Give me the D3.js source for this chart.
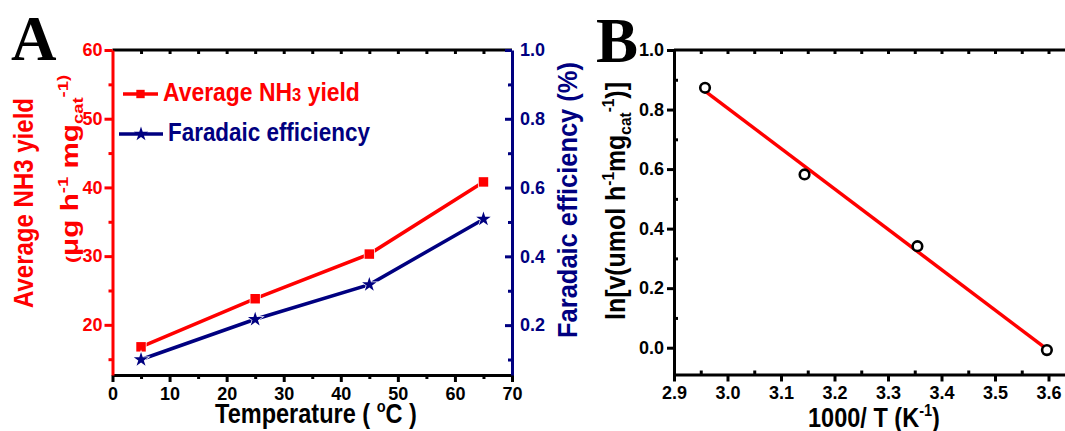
<!DOCTYPE html>
<head>
<meta charset="utf-8">
<script src="https://d3js.org/d3.v7.min.js"></script>
<style>
  body { margin: 0; background: #fff; }
  svg { display: block; }
  text { font-family: "Liberation Sans", Arial, sans-serif; font-weight: bold; }
  .panel-letter { font-family: "Liberation Serif", "Times New Roman", serif; }
</style>
</head>
<body>
<svg id="chart" width="1065" height="431"></svg>
<script>
// ---- panel A : yield / efficiency vs temperature
var temps = [5, 25, 45, 65];
var nh3Yield = [16.8, 23.8, 30.3, 40.8];
var faradaic = [0.10, 0.217, 0.318, 0.508];
var xTicksA = [0, 10, 20, 30, 40, 50, 60, 70];
var xMinorA = [5, 15, 25, 35, 45, 55, 65];
var yTicksA = [20, 30, 40, 50, 60];
var yMinorA = [15, 25, 35, 45, 55];
var y2TicksA = [0.2, 0.4, 0.6, 0.8, 1.0];
var y2MinorA = [0.1, 0.3, 0.5, 0.7, 0.9];

// ---- panel B : Arrhenius plot
var invT = [2.958, 3.144, 3.355, 3.597];
var lnRate = [0.873, 0.582, 0.341, -0.008];
var fitX = [2.958, 3.597];
var fitY = [0.862, -0.005];
var xTicksB = [2.9, 3.0, 3.1, 3.2, 3.3, 3.4, 3.5, 3.6];
var xMinorB = [2.95, 3.05, 3.15, 3.25, 3.35, 3.45, 3.55];
var yTicksB = [0.0, 0.2, 0.4, 0.6, 0.8, 1.0];
var yMinorB = [0.1, 0.3, 0.5, 0.7, 0.9];

var red = '#ff0000', navy = '#000080';
var svg = d3.select('#chart');

function drawAxis(gen, tf, color) {
  var g = svg.append('g')
    .attr('transform', tf)
    .attr('color', color)
    .call(gen)
    .attr('font-size', 18);
  g.selectAll('path, line').attr('stroke-width', 3);
  return g;
}

function minorAxis(gen, tf, color) {
  var g = drawAxis(gen.tickFormat(''), tf, color);
  g.select('.domain').remove();
  return g;
}

// text with sup/sub parts, squeezed to a target width
function label(parts, o) {
  var t = svg.append('text')
    .attr('text-anchor', o.anchor || 'middle')
    .style('font-size', o.size + 'px')
    .attr('fill', o.fill || '#000');
  var shift = 0;
  parts.forEach(function (p) {
    var s = typeof p === 'string' ? [p, ''] : p;
    var target = s[1] === 'sup' ? -0.42 * o.size : s[1] === 'sub' ? 0.22 * o.size : 0;
    var ts = t.append('tspan').attr('dy', target - shift).text(s[0]);
    if (s[1] === 'sup' || s[1] === 'sub') ts.style('font-size', (o.size * 0.62) + 'px');
    if (s[1] === 'small') ts.style('font-size', (o.size * 0.72) + 'px');
    shift = target;
  });
  var len = t.node().getComputedTextLength();
  var k = o.width ? o.width / len : 1;
  t.attr('transform', 'translate(' + o.x + ',' + o.y + ') rotate(' + (o.rotate || 0) + ') scale(' + k + ',1)');
  return t;
}

// ================= panel A =================
var xA = d3.scaleLinear().domain([0, 70]).range([112.5, 512]);
var yA = d3.scaleLinear().domain([12.7, 60]).range([375, 50]);
var yA2 = d3.scaleLinear().domain([0.055, 1.0]).range([375, 50]);

// top frame
minorAxis(d3.axisTop(xA).tickValues(xMinorA.concat(xTicksA.slice(1, -1))).tickSize(-4).tickSizeOuter(0), 'translate(0,50)', '#000');
svg.append('line').attr('x1', xA(0)).attr('x2', xA(70)).attr('y1', 50).attr('y2', 50)
  .attr('stroke', '#000').attr('stroke-width', 3);

drawAxis(d3.axisBottom(xA).tickValues(xTicksA).tickSize(7).tickPadding(5).tickSizeOuter(0),
  'translate(0,375)', '#000');
minorAxis(d3.axisBottom(xA).tickValues(xMinorA).tickSize(4), 'translate(0,375)', '#000');

drawAxis(d3.axisLeft(yA).tickValues(yTicksA).tickSize(8).tickPadding(2).tickSizeOuter(0),
  'translate(112.5,0)', red);
minorAxis(d3.axisLeft(yA).tickValues(yMinorA).tickSize(4), 'translate(112.5,0)', red);

drawAxis(d3.axisRight(yA2).tickValues(y2TicksA).tickSize(-7).tickPadding(8).tickSizeOuter(0)
  .tickFormat(d3.format('.1f')), 'translate(512,0)', navy);
minorAxis(d3.axisRight(yA2).tickValues(y2MinorA).tickSize(-4), 'translate(512,0)', navy);

var lineYield = d3.line().x(function (d, i) { return xA(temps[i]); }).y(function (d) { return yA(d); });
var lineFE = d3.line().x(function (d, i) { return xA(temps[i]); }).y(function (d) { return yA2(d); });

svg.append('path').datum(nh3Yield).attr('d', lineYield)
  .attr('fill', 'none').attr('stroke', red).attr('stroke-width', 3.5);
svg.append('path').datum(faradaic).attr('d', lineFE)
  .attr('fill', 'none').attr('stroke', navy).attr('stroke-width', 3.5);

svg.selectAll('.sq').data(nh3Yield).enter().append('path')
  .attr('d', d3.symbol(d3.symbolSquare, 90))
  .attr('transform', function (d, i) { return 'translate(' + xA(temps[i]) + ',' + yA(d) + ')'; })
  .attr('fill', red).attr('stroke', '#fff').attr('stroke-width', 1.5).attr('paint-order', 'stroke');
svg.selectAll('.star').data(faradaic).enter().append('path')
  .attr('d', d3.symbol(d3.symbolStar, 65))
  .attr('transform', function (d, i) { return 'translate(' + xA(temps[i]) + ',' + yA2(d) + ')'; })
  .attr('fill', navy).attr('stroke', '#fff').attr('stroke-width', 1.5).attr('paint-order', 'stroke');

// legend
svg.append('line').attr('x1', 123).attr('x2', 158).attr('y1', 94).attr('y2', 94)
  .attr('stroke', red).attr('stroke-width', 3.5);
svg.append('path').attr('d', d3.symbol(d3.symbolSquare, 70)).attr('transform', 'translate(140.5,94)').attr('fill', red);
svg.append('line').attr('x1', 119).attr('x2', 163).attr('y1', 134).attr('y2', 134)
  .attr('stroke', navy).attr('stroke-width', 3.5);
svg.append('path').attr('d', d3.symbol(d3.symbolStar, 65)).attr('transform', 'translate(141,134)').attr('fill', navy);
label(['Average NH', ['3', 'small'], ' yield'], { x: 163, y: 101, size: 26, width: 197, fill: red, anchor: 'start' });
label(['Faradaic efficiency'], { x: 168, y: 141, size: 26, width: 202, fill: navy, anchor: 'start' });

// titles
label(['Average NH3 yield'], { x: 33, y: 203, rotate: -90, size: 27, width: 210, fill: red });
label([['(', 'small'], '\u03bcg h', ['-1', 'sup'], ' mg', ['cat', 'sub'], ['-1', 'sup'], [')', 'sup']],
  { x: 78, y: 169, rotate: -90, size: 23, width: 188, fill: red });
label(['Faradaic efficiency (%)'], { x: 577, y: 200, rotate: -90, size: 27, width: 276, fill: navy });
label(['Temperature ( ', ['o', 'sup'], 'C )'], { x: 316, y: 423, size: 27, width: 202 });

svg.append('text').attr('class', 'panel-letter').attr('x', 11).attr('y', 60)
  .style('font-size', '63px').text('A');

// ================= panel B =================
var xB = d3.scaleLinear().domain([2.9, 3.64]).range([674, 674 + 0.74 * 535]);
var yB = d3.scaleLinear().domain([-0.09, 1.0]).range([374.5, 50]);

minorAxis(d3.axisTop(xB).tickValues(xMinorB.concat(xTicksB.slice(1))).tickSize(-4), 'translate(0,50)', '#000');
svg.append('line').attr('x1', xB(2.9)).attr('x2', 1065).attr('y1', 50).attr('y2', 50)
  .attr('stroke', '#000').attr('stroke-width', 3);

drawAxis(d3.axisBottom(xB).tickValues(xTicksB).tickSize(7).tickPadding(5).tickSizeOuter(0)
  .tickFormat(d3.format('.1f')), 'translate(0,374.5)', '#000');
minorAxis(d3.axisBottom(xB).tickValues(xMinorB).tickSize(-4), 'translate(0,374.5)', '#000');

drawAxis(d3.axisLeft(yB).tickValues(yTicksB).tickSize(7).tickPadding(3).tickSizeOuter(0)
  .tickFormat(d3.format('.1f')), 'translate(674,0)', '#000');
minorAxis(d3.axisLeft(yB).tickValues(yMinorB).tickSize(-4), 'translate(674,0)', '#000');

svg.append('path').datum(fitX)
  .attr('d', d3.line().x(function (d) { return xB(d); }).y(function (d, i) { return yB(fitY[i]); }))
  .attr('fill', 'none').attr('stroke', red).attr('stroke-width', 3.5);

svg.selectAll('.pt').data(invT).enter().append('circle')
  .attr('cx', function (d) { return xB(d); })
  .attr('cy', function (d, i) { return yB(lnRate[i]); })
  .attr('r', 4.8).attr('fill', '#fff').attr('stroke', '#000').attr('stroke-width', 2.6);

label(['ln[v(umol h', ['-1', 'sup'], 'mg', ['cat', 'sub'], ['-1', 'sup'], ')]'],
  { x: 625, y: 201, rotate: -90, size: 27, width: 238 });
label(['1000/ T (K', ['-1', 'sup'], ')'], { x: 874, y: 427, size: 27, width: 132 });

svg.append('text').attr('class', 'panel-letter').attr('x', 596).attr('y', 62)
  .style('font-size', '63px').text('B');
</script>
</body>
</html>
